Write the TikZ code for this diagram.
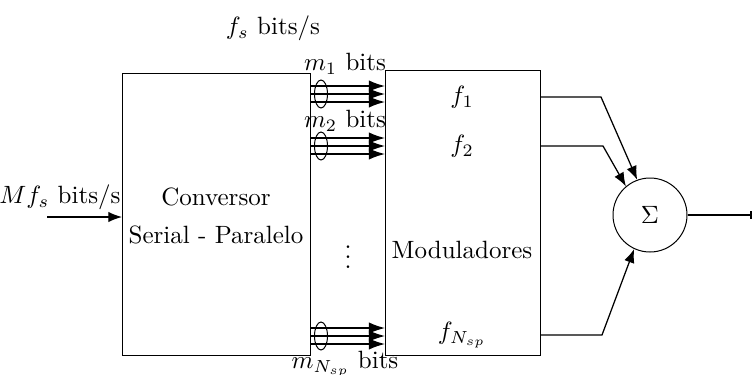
\documentclass[tikz,border=0pt]{standalone}
\usetikzlibrary{arrows.meta}
\begin{document}
\begin{tikzpicture}[x=0.40pt,y=-0.40pt,
  blk/.style={draw, line width=0.4pt},
  arr/.style={-{Latex[length=5.5pt,width=4.2pt]}, line width=0.5pt},
  barr/.style={-{Latex[length=6.5pt,width=4.6pt]}, line width=0.6pt},
  lbl/.style={inner sep=0pt}]
\useasboundingbox (0,0) rectangle (752,374);
% blocks
\draw[blk] (122,73) rectangle (310,355);
\draw[blk] (385,70) rectangle (540,355);
\node[lbl, align=center] (conv) at (216,216) {Conversor\\[3pt]Serial - Paralelo};
\node[lbl] (mod) at (462,250) {Moduladores};
\node[draw, circle, minimum size=74*0.40pt, inner sep=0pt, line width=0.4pt] (sum) at (650,215) {$\Sigma$};
% input
\coordinate (in) at (47,217);
\coordinate (inE) at (122,217);
\draw[arr] (in) -- (inE);
\node[lbl] (inl) at (60,197) {$Mf_s$ bits/s};
\node[lbl] (fs) at (273,28) {$f_s$ bits/s};
% bundles
\foreach \y/\n in {94/a,146/b,336/c}{
  \foreach \d in {-8,0,8}{
    \coordinate (s\n\d) at (310,\y+\d);
    \coordinate (e\n\d) at (385,\y+\d);
    \draw[barr] (s\n\d) -- (e\n\d);
  }
  \draw (321,\y) ellipse (6.5 and 14);
}
\node[lbl] (m1) at (345,64) {$m_1$ bits};
\node[lbl] (m2) at (345,121) {$m_2$ bits};
\node[lbl] (mN) at (345,364) {$m_{N_{sp}}$ bits};
\node[lbl] (dots) at (348,250) {$\vdots$};
% frequencies
\node[lbl] (f1) at (462,97) {$f_1$};
\node[lbl] (f2) at (462,146) {$f_2$};
\node[lbl] (fN) at (462,335) {$f_{N_{sp}}$};
% outputs to sum
\coordinate (o1) at (540,97);
\coordinate (o2) at (540,146);
\coordinate (o3) at (540,335);
\coordinate (k1) at (601,97);
\coordinate (k2) at (603,146);
\coordinate (k3) at (602,335);
\draw[arr] (o1) -- (k1) -- (sum.110);
\draw[arr] (o2) -- (k2) -- (sum.130);
\draw[arr] (o3) -- (k3) -- (sum.245);
\coordinate (out) at (752,215);
\draw[line width=0.5pt] (sum.east) -- (out);
\draw[line width=1pt] (751,211) -- (751,219);
\end{tikzpicture}
\end{document}
